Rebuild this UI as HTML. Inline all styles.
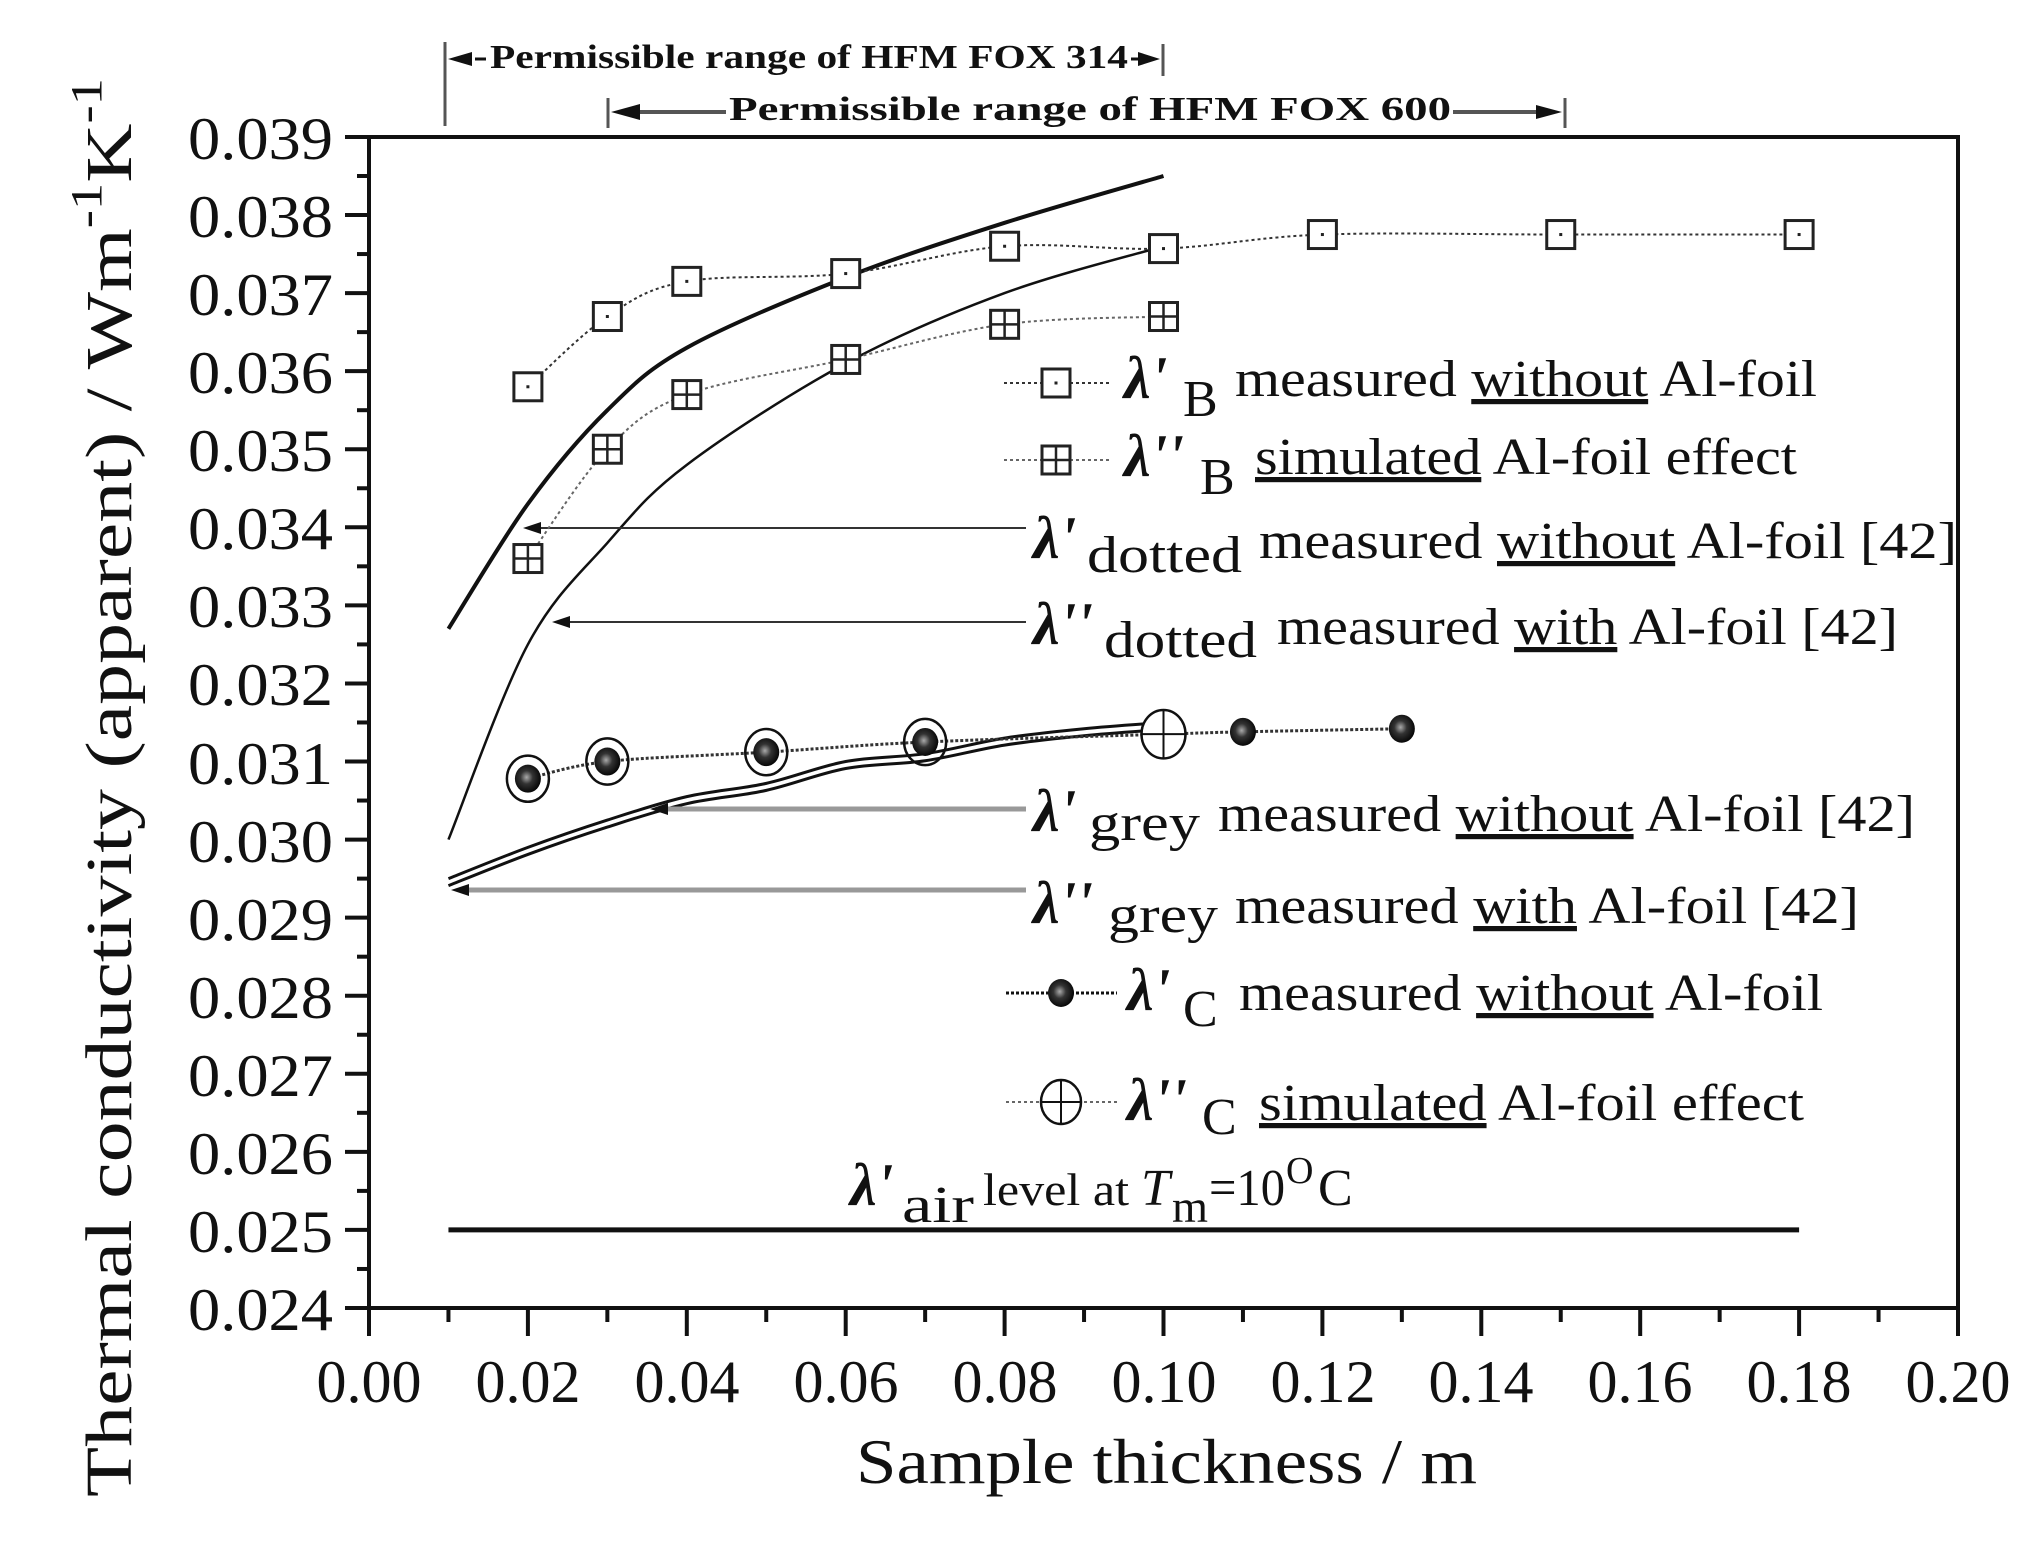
<!DOCTYPE html>
<html><head><meta charset="utf-8"><style>
html,body{margin:0;padding:0;background:#fff;}
svg{display:block;}
text{font-family:"Liberation Serif",serif;fill:#111;}
.tk{font-size:60px;}
.lg{font-size:52px;}
.lam{font-size:60px;font-weight:bold;font-style:italic;}
.sub{font-size:52px;}
.top{font-size:34px;font-weight:bold;}
</style></head><body>
<svg id="s" width="2039" height="1554" viewBox="0 0 2039 1554" xmlns="http://www.w3.org/2000/svg">
<rect width="2039" height="1554" fill="#fff"/>
<g id="g"></g>
<!-- y tick labels -->
<g class="tk">
<text x="188" y="159" textLength="145" lengthAdjust="spacingAndGlyphs">0.039</text><text x="188" y="237" textLength="145" lengthAdjust="spacingAndGlyphs">0.038</text><text x="188" y="315" textLength="145" lengthAdjust="spacingAndGlyphs">0.037</text>
<text x="188" y="393" textLength="145" lengthAdjust="spacingAndGlyphs">0.036</text><text x="188" y="471" textLength="145" lengthAdjust="spacingAndGlyphs">0.035</text><text x="188" y="549" textLength="145" lengthAdjust="spacingAndGlyphs">0.034</text>
<text x="188" y="627" textLength="145" lengthAdjust="spacingAndGlyphs">0.033</text><text x="188" y="705" textLength="145" lengthAdjust="spacingAndGlyphs">0.032</text><text x="188" y="784" textLength="145" lengthAdjust="spacingAndGlyphs">0.031</text>
<text x="188" y="862" textLength="145" lengthAdjust="spacingAndGlyphs">0.030</text><text x="188" y="940" textLength="145" lengthAdjust="spacingAndGlyphs">0.029</text><text x="188" y="1018" textLength="145" lengthAdjust="spacingAndGlyphs">0.028</text>
<text x="188" y="1096" textLength="145" lengthAdjust="spacingAndGlyphs">0.027</text><text x="188" y="1174" textLength="145" lengthAdjust="spacingAndGlyphs">0.026</text><text x="188" y="1252" textLength="145" lengthAdjust="spacingAndGlyphs">0.025</text>
<text x="188" y="1330" textLength="145" lengthAdjust="spacingAndGlyphs">0.024</text>
</g>
<g class="tk" text-anchor="middle">
<text x="369" y="1402">0.00</text><text x="528" y="1402">0.02</text><text x="687" y="1402">0.04</text>
<text x="846" y="1402">0.06</text><text x="1005" y="1402">0.08</text><text x="1164" y="1402">0.10</text>
<text x="1323" y="1402">0.12</text><text x="1481" y="1402">0.14</text><text x="1640" y="1402">0.16</text>
<text x="1799" y="1402">0.18</text><text x="1958" y="1402">0.20</text>
</g>
<text x="856" y="1483" font-size="64" textLength="621" lengthAdjust="spacingAndGlyphs">Sample thickness / m</text>
<text transform="translate(131,1497) rotate(-90)" font-size="66" textLength="1419" lengthAdjust="spacingAndGlyphs">Thermal conductivity (apparent) / Wm<tspan dy="-30" font-size="44">-1</tspan><tspan dy="30">K</tspan><tspan dy="-30" font-size="44">-1</tspan></text>

<!-- top annotations -->
<text class="top" x="490" y="68" textLength="638" lengthAdjust="spacingAndGlyphs">Permissible range of HFM FOX 314</text>
<text class="top" x="729" y="120" textLength="722" lengthAdjust="spacingAndGlyphs">Permissible range of HFM FOX 600</text>

<!-- legend -->
<text class="lam" x="1124" y="398">λ'</text><text class="sub" x="1183" y="416">B</text>
<text class="lg" x="1235" y="396" textLength="582" lengthAdjust="spacingAndGlyphs">measured <tspan text-decoration="underline">without</tspan> Al-foil</text>
<text class="lam" x="1124" y="476">λ''</text><text class="sub" x="1200" y="494">B</text>
<text class="lg" x="1255" y="474" textLength="542" lengthAdjust="spacingAndGlyphs"><tspan text-decoration="underline">simulated</tspan> Al-foil effect</text>
<text class="lam" x="1033" y="558">λ'</text><text class="sub" x="1087" y="572" textLength="155" lengthAdjust="spacingAndGlyphs">dotted</text>
<text class="lg" x="1259" y="558" textLength="698" lengthAdjust="spacingAndGlyphs">measured <tspan text-decoration="underline">without</tspan> Al-foil [42]</text>
<text class="lam" x="1033" y="644">λ''</text><text class="sub" x="1104" y="657" textLength="153" lengthAdjust="spacingAndGlyphs">dotted</text>
<text class="lg" x="1277" y="644" textLength="621" lengthAdjust="spacingAndGlyphs">measured <tspan text-decoration="underline">with</tspan> Al-foil [42]</text>
<text class="lam" x="1033" y="831">λ'</text><text class="sub" x="1089" y="840" textLength="111" lengthAdjust="spacingAndGlyphs">grey</text>
<text class="lg" x="1218" y="831" textLength="697" lengthAdjust="spacingAndGlyphs">measured <tspan text-decoration="underline">without</tspan> Al-foil [42]</text>
<text class="lam" x="1033" y="923">λ''</text><text class="sub" x="1108" y="932" textLength="110" lengthAdjust="spacingAndGlyphs">grey</text>
<text class="lg" x="1235" y="923" textLength="624" lengthAdjust="spacingAndGlyphs">measured <tspan text-decoration="underline">with</tspan> Al-foil [42]</text>
<text class="lam" x="1127" y="1010">λ'</text><text class="sub" x="1183" y="1026">C</text>
<text class="lg" x="1239" y="1010" textLength="584" lengthAdjust="spacingAndGlyphs">measured <tspan text-decoration="underline">without</tspan> Al-foil</text>
<text class="lam" x="1127" y="1120">λ''</text><text class="sub" x="1202" y="1134">C</text>
<text class="lg" x="1259" y="1120" textLength="545" lengthAdjust="spacingAndGlyphs"><tspan text-decoration="underline">simulated</tspan> Al-foil effect</text>
<text class="lam" x="850" y="1205">λ'</text><text class="sub" x="902" y="1222" textLength="72" lengthAdjust="spacingAndGlyphs">air</text>
<text x="983" y="1205" font-size="46" textLength="146" lengthAdjust="spacingAndGlyphs">level at</text>
<text x="1141" y="1205" font-size="52" font-style="italic">T</text>
<text x="1172" y="1222" font-size="46" textLength="36" lengthAdjust="spacingAndGlyphs">m</text>
<text x="1209" y="1205" font-size="52" textLength="76" lengthAdjust="spacingAndGlyphs">=10</text><text x="1286" y="1183" font-size="38">O</text><text x="1318" y="1205" font-size="52">C</text>
</svg>
<script>
var NS="http://www.w3.org/2000/svg",g=document.getElementById("g");
function X(v){return 369+v*7945;}function Y(v){return 1308-(v-0.024)*78070;}
function el(t,a){var e=document.createElementNS(NS,t);for(var k in a)e.setAttribute(k,a[k]);g.appendChild(e);return e;}
function line(x1,y1,x2,y2,w,c,d){var a={x1:x1,y1:y1,x2:x2,y2:y2,stroke:c||"#111","stroke-width":w||3};if(d)a["stroke-dasharray"]=d;el("line",a);}
function smooth(pts){var s="M"+pts[0][0]+","+pts[0][1];for(var i=0;i<pts.length-1;i++){var p0=pts[i-1]||pts[i],p1=pts[i],p2=pts[i+1],p3=pts[i+2]||p2;
s+=" C"+(p1[0]+(p2[0]-p0[0])/6)+","+(p1[1]+(p2[1]-p0[1])/6)+" "+(p2[0]-(p3[0]-p1[0])/6)+","+(p2[1]-(p3[1]-p1[1])/6)+" "+p2[0]+","+p2[1];}return s;}
function P(a){return a.map(function(p){return[X(p[0]),Y(p[1])];});}
el("rect",{x:369,y:137,width:1589,height:1171,fill:"none",stroke:"#111","stroke-width":4});
for(var i=0;i<=30;i++){var y=Y(0.024+i*0.0005);line(369-(i%2?12:24),y,369,y,4);}
for(var i=0;i<=20;i++){var x=X(i*0.01);line(x,1308,x,1308+(i%2?14:28),4);}
line(445,42,445,126,3,"#555");line(475,59,486,59,3);el("path",{d:"M448,59 L472,52 L472,66Z",fill:"#111"});
line(1131,59,1140,59,3);el("path",{d:"M1160,59 L1138,52 L1138,66Z",fill:"#111"});line(1163,44,1163,76,3,"#555");
line(608,98,608,128,3,"#555");el("path",{d:"M611,112 L640,104 L640,120Z",fill:"#111"});line(640,112,726,112,4,"#555");
line(1453,112,1540,112,4,"#555");el("path",{d:"M1562,112 L1536,105 L1536,119Z",fill:"#111"});line(1565,98,1565,128,3,"#555");
line(X(0.01),Y(0.025),X(0.18),Y(0.025),5);
el("path",{d:smooth(P([[0.01,0.0327],[0.02,0.0343],[0.03,0.0355],[0.04,0.0363],[0.06,0.0372],[0.08,0.0379],[0.10,0.0385]])),fill:"none",stroke:"#111","stroke-width":4});
el("path",{d:smooth(P([[0.01,0.0300],[0.02,0.0325],[0.03,0.0338],[0.04,0.0348],[0.06,0.0361],[0.08,0.0370],[0.10,0.0376]])),fill:"none",stroke:"#111","stroke-width":2.5});
var gr=[[0.01,0.02950],[0.02,0.02990],[0.03,0.03025],[0.04,0.03055],[0.05,0.03072],[0.06,0.03100],[0.07,0.03110],[0.08,0.03130],[0.09,0.03142],[0.10,0.03150]];
el("path",{d:smooth(P(gr)),fill:"none",stroke:"#111","stroke-width":3});
el("path",{d:smooth(P(gr.map(function(p){return[p[0],p[1]-0.00009];}))),fill:"none",stroke:"#111","stroke-width":3});
function arrow(x1,x2,y,c,w){line(x1+14,y,x2,y,w||2,c);el("path",{d:"M"+x1+","+y+" L"+(x1+18)+","+(y-6)+" L"+(x1+18)+","+(y+6)+"Z",fill:"#111"});}
arrow(523,1026,528,"#333",2);arrow(552,1026,622,"#333",2);arrow(650,1026,809,"#999",5);arrow(451,1026,890,"#999",5);
function sq(x,y,plus){el("rect",{x:x-14,y:y-14,width:28,height:28,fill:"#fff",stroke:"#222","stroke-width":3});
if(plus){line(x,y-14,x,y+14,2.5,"#222");line(x-14,y,x+14,y,2.5,"#222");}else el("rect",{x:x-1.5,y:y-1.5,width:3,height:3,fill:"#222"});}
var B1=[[0.02,0.0358],[0.03,0.0367],[0.04,0.03715],[0.06,0.03725],[0.08,0.0376],[0.10,0.03757],[0.12,0.03775],[0.15,0.03775],[0.18,0.03775]];
var B2=[[0.02,0.0336],[0.03,0.0350],[0.04,0.0357],[0.06,0.03615],[0.08,0.0366],[0.10,0.0367]];
el("path",{d:smooth(P(B1)),fill:"none",stroke:"#333","stroke-width":2,"stroke-dasharray":"3,3"});
el("path",{d:smooth(P(B2)),fill:"none",stroke:"#666","stroke-width":2,"stroke-dasharray":"3,3"});
P(B1).forEach(function(p){sq(p[0],p[1]);});P(B2).forEach(function(p){sq(p[0],p[1],1);});
var C1=[[0.02,0.03078],[0.03,0.0310],[0.05,0.03112],[0.07,0.03125],[0.10,0.03135],[0.11,0.03138],[0.13,0.03142]];
el("path",{d:smooth(P(C1)),fill:"none",stroke:"#333","stroke-width":3,"stroke-dasharray":"3,2"});
var defs=document.createElementNS(NS,"defs");defs.innerHTML='<radialGradient id="bg" cx="0.45" cy="0.45" r="0.6"><stop offset="0" stop-color="#aaa"/><stop offset="0.4" stop-color="#333"/><stop offset="1" stop-color="#000"/></radialGradient>';document.getElementById("s").appendChild(defs);
function circ(x,y,r,plus){el("ellipse",{cx:x,cy:y,rx:r,ry:r*1.1,fill:plus?"#fff":"none",stroke:"#111","stroke-width":2.5});if(plus){line(x-r,y,x+r,y,2);line(x,y-r*1.1,x,y+r*1.1,2);}}
function ball(x,y){el("ellipse",{cx:x,cy:y,rx:13,ry:14,fill:"url(#bg)"});}
P(C1).forEach(function(p,i){if(i<4){circ(p[0],p[1],21);}if(i==4)circ(p[0],p[1],22,1);else ball(p[0],p[1]);});
line(1004,383,1111,383,2,"#333","3,3");sq(1056,383);
line(1004,460,1111,460,2,"#666","3,3");sq(1056,460,1);
line(1006,993,1117,993,3,"#111","3,2");ball(1061,993);
line(1006,1102,1117,1102,2,"#666","3,3");circ(1061,1102,20,1);
</script>
</body></html>
